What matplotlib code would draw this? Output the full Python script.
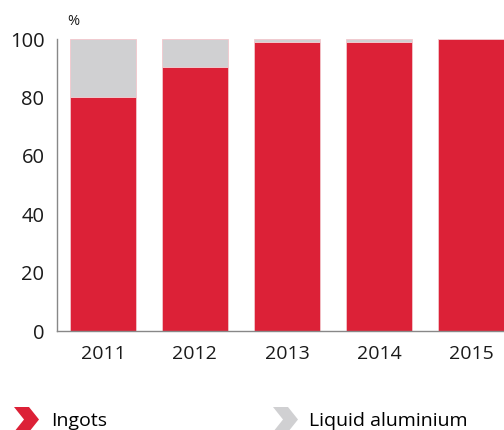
import matplotlib.pyplot as plt
from matplotlib.lines import Line2D
import numpy as np

years = ['2011', '2012', '2013', '2014', '2015']
ingots = [80.3, 90.3, 99, 99, 100]
liquid = [19.7, 9.7, 1, 1, 0]

red = '#DC2137'
grey = '#D0D0D2'
plt.rcParams['font.family'] = ['Open Sans', 'DejaVu Sans']

fig = plt.figure(figsize=(5.04, 4.30), dpi=100)
ax = fig.add_axes([0.113, 0.230, 0.887, 0.679])
x = np.arange(len(years))
ax.bar(x, ingots, width=0.717, color=red, edgecolor='#F2C6CC', linewidth=0.6)
ax.bar(x, liquid, bottom=ingots, width=0.717, color=grey, edgecolor='#F2C6CC', linewidth=0.6)

ax.set_xlim(-0.5, 4.36)
ax.set_ylim(0, 100)
ax.set_yticks([0, 20, 40, 60, 80, 100])
ax.set_xticks(x)
ax.set_xticklabels(years)
ax.tick_params(length=0, labelsize=14.5, colors='#1a1a1a')
ax.tick_params(axis='x', pad=10, labelsize=14)
ax.tick_params(axis='y', pad=9)
for s in ['top', 'right']:
    ax.spines[s].set_visible(False)
for s in ['left', 'bottom']:
    ax.spines[s].set_color('#888888')
    ax.spines[s].set_linewidth(1)
fig.text(0.145, 0.95, '%', fontsize=10.5, color='#1a1a1a', ha='center', va='center')

chev = [(-1, -1), (0.2, -1), (1, 0), (0.2, 1), (-1, 1), (-0.2, 0), (-1, -1)]
handles = [Line2D([], [], ls='none', marker=chev, markersize=18, color=red, mec='none'),
           Line2D([], [], ls='none', marker=chev, markersize=18, color=grey, mec='none')]
fig.legend(handles, ['Ingots', 'Liquid aluminium'], loc='center left', bbox_to_anchor=(0.01, 0.022),
           ncol=2, frameon=False, fontsize=14, columnspacing=8.45, handletextpad=0.55,
           handlelength=1.4, borderaxespad=0)
fig.savefig('out.png', dpi=100)
